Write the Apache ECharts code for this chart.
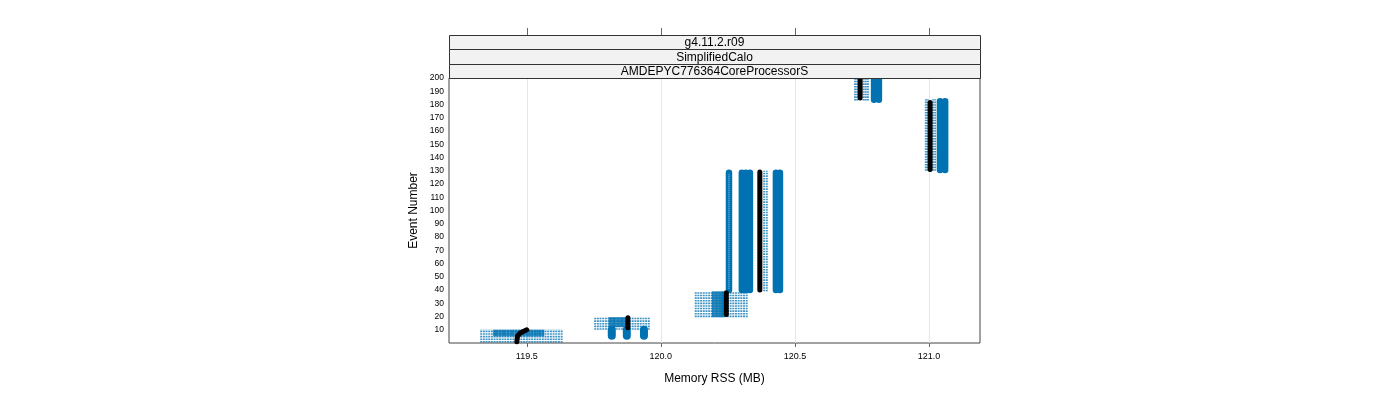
<!DOCTYPE html>
<html>
<head>
<meta charset="utf-8">
<script src="https://cdn.jsdelivr.net/npm/echarts@6/dist/echarts.min.js"></script>
<style>html,body{margin:0;padding:0;background:#fff}#c{width:1400px;height:400px}</style>
</head>
<body>
<div id="c"></div>
<script>
// ---- data ----
const stripLabels = ['g4.11.2.r09', 'SimplifiedCalo', 'AMDEPYC776364CoreProcessorS'];
const xTicks = [119.5, 120.0, 120.5, 121.0];
const xRange = [119.21, 121.19];
const yRange = [0, 200];

// light (sparse) runs: memory values and the event span they cover
const light1X = [119.33,119.34,119.35,119.36,119.37,119.38,119.39,119.40,119.41,119.42,119.43,119.44,119.45,119.46,119.47,119.48,119.49,119.50,119.51,119.52,119.53,119.54,119.55,119.56,119.57,119.58,119.59,119.60,119.61,119.62,119.63];
const light1Ev = [0.3, 10.3];
const light2X = [119.755,119.765,119.775,119.785,119.795,119.805,119.815,119.825,119.835,119.845,119.855,119.865,119.875,119.885,119.895,119.905,119.915,119.925,119.935,119.945,119.955];
const light2Ev = [10, 19.8];
const light3X = [120.13,120.14,120.15,120.16,120.17,120.18,120.19,120.20,120.21,120.22,120.23,120.24,120.25,120.26,120.27,120.28,120.29,120.30,120.31,120.32];
const light3Ev = [19.5, 39];
const light4X = [120.385, 120.395];
const light4Ev = [39, 130];
const light5X = [120.988, 120.995, 121.015, 121.023];
const light5Ev = [130, 184];
const light6X = [120.724, 120.732, 120.756, 120.764, 120.772];
const light6Ev = [183, 200];

// dense runs (many overlapping runs)
const dense1X = [119.38,119.39,119.40,119.41,119.42,119.43,119.44,119.45,119.46,119.47,119.48,119.49,119.50,119.51,119.52,119.53,119.54,119.55,119.56];
const dense1Ev = [5, 10];
const dense2X = [119.81,119.82,119.83,119.84,119.85,119.86,119.87];
const dense2Ev = [12, 19.5];
const dense3X = [120.195,120.205,120.215,120.225,120.232];
const dense3Ev = [19.5, 39];

// solid blue columns: [memory, first event, last event]
const blueRuns = [
  [120.254, 40, 128.5],
  [120.302, 40, 128.5], [120.317, 40, 128.5], [120.332, 40, 128.5],
  [120.429, 40, 128.5], [120.444, 40, 128.5],
  [121.041, 130.6, 182.4], [121.060, 130.6, 182.4],
  [120.795, 183.6, 200], [120.813, 183.6, 200]
];
// blue blobs near the start (wider marks)
const blueBlobs = [[119.817, 5.5, 10], [119.873, 5.5, 10], [119.937, 5.5, 10]];

// black reference run: [memory, event] points, one path per step
const blackPaths = [
  [[119.463, 1], [119.465, 5], [119.474, 7.3], [119.489, 8.9], [119.5, 10]],
  [[119.877, 11.5], [119.877, 19]],
  [[120.244, 21.5], [120.244, 38]],
  [[120.369, 40], [120.369, 129]],
  [[121.004, 131], [121.004, 181.5]],
  [[120.743, 185], [120.743, 200]]
];

// ---- layout ----
const G = { left: 449, right: 980, top: 78, bottom: 343 };
const stripTop = 35, stripH = (G.top - stripTop) / 3;
const FONT = '"Liberation Sans", Arial, sans-serif';
const BLUE = '#0072B2';

function toRows(xs, ev) { return xs.map(x => [x, ev[0], ev[1]]); }

function segSeries(rows, style, z) {
  return {
    type: 'custom', silent: true, animation: false, clip: true, z: z,
    encode: { x: 0, y: [1, 2] },
    data: rows,
    renderItem: function (params, api) {
      const p0 = api.coord([api.value(0), api.value(1)]);
      const p1 = api.coord([api.value(0), api.value(2)]);
      return { type: 'line', shape: { x1: p0[0], y1: p0[1], x2: p1[0], y2: p1[1] }, style: Object.assign({ fill: null }, style) };
    }
  };
}

const lightRows = [].concat(
  toRows(light1X, light1Ev), toRows(light2X, light2Ev), toRows(light3X, light3Ev),
  toRows(light4X, light4Ev), toRows(light5X, light5Ev), toRows(light6X, light6Ev));
const denseRows = [].concat(toRows(dense1X, dense1Ev), toRows(dense2X, dense2Ev), toRows(dense3X, dense3Ev));

const series = [];
// vertical reference grid lines at tick positions
series.push({
  type: 'custom', silent: true, animation: false, z: 1,
  encode: { x: 0 },
  data: xTicks.map(v => [v]),
  renderItem: function (params, api) {
    const a = api.coord([api.value(0), yRange[0]]);
    const b = api.coord([api.value(0), yRange[1]]);
    return { type: 'line', shape: { x1: Math.round(a[0]) + 0.5, y1: a[1], x2: Math.round(b[0]) + 0.5, y2: b[1] }, style: { stroke: '#e6e6e6', lineWidth: 1 } };
  }
});
series.push(segSeries(lightRows, { stroke: 'rgba(0,114,178,0.75)', lineWidth: 2, lineDash: [1.6, 1], lineCap: 'butt' }, 3));
series.push(segSeries(denseRows, { stroke: 'rgba(0,114,178,0.85)', lineWidth: 2.8, lineCap: 'butt' }, 4));
series.push(segSeries(blueRuns, { stroke: BLUE, lineWidth: 6.5, lineCap: 'round' }, 5));
series.push(segSeries(blueBlobs, { stroke: BLUE, lineWidth: 8, lineCap: 'round' }, 5));
// lighter dotted core of the thin column
series.push(segSeries([[120.254, 41, 127.5]], { stroke: 'rgba(255,255,255,0.35)', lineWidth: 2, lineDash: [1, 1], lineCap: 'butt' }, 6));
blackPaths.forEach(p => {
  series.push({
    type: 'line', data: p, showSymbol: false, symbol: 'none', silent: true, animation: false, z: 8,
    lineStyle: { color: '#000', width: 5, cap: 'round', join: 'round' }
  });
});

const graphics = [];
stripLabels.forEach((t, i) => {
  const y0 = Math.round(stripTop + i * stripH);
  const y1 = Math.round(stripTop + (i + 1) * stripH);
  graphics.push({
    type: 'rect', silent: true, z: 10,
    shape: { x: G.left + 0.5, y: y0 + 0.5, width: G.right - G.left, height: y1 - y0 },
    style: { fill: '#f2f2f2', stroke: '#333', lineWidth: 1 }
  });
  graphics.push({
    type: 'text', silent: true, z: 11,
    x: (G.left + G.right) / 2, y: (y0 + y1) / 2 + 1,
    style: { text: t, fill: '#000', font: '12px ' + FONT, align: 'center', verticalAlign: 'middle' }
  });
});

const chart = echarts.init(document.getElementById('c'), null, { renderer: 'canvas' });
chart.setOption({
  backgroundColor: '#fff',
  animation: false,
  textStyle: { fontFamily: FONT },
  grid: { left: G.left, top: G.top, width: G.right - G.left, height: G.bottom - G.top, show: true, borderColor: '#444', borderWidth: 1, backgroundColor: 'transparent' },
  xAxis: [{
    type: 'value', min: xRange[0], max: xRange[1], position: 'bottom',
    name: 'Memory RSS (MB)', nameLocation: 'middle', nameGap: 30,
    nameTextStyle: { fontSize: 12, color: '#000', fontFamily: FONT },
    axisLine: { show: false },
    axisTick: { show: true, customValues: xTicks, length: 4, lineStyle: { color: '#666' } },
    axisLabel: { customValues: xTicks, formatter: v => v.toFixed(1), fontSize: 9, color: '#000', margin: 9, fontFamily: FONT },
    splitLine: { show: false }
  }, {
    type: 'value', min: xRange[0], max: xRange[1], position: 'top', offset: G.top - stripTop,
    axisLine: { show: false },
    axisTick: { show: true, customValues: xTicks, length: 7, lineStyle: { color: '#666' } },
    axisLabel: { show: false },
    splitLine: { show: false }
  }],
  yAxis: {
    type: 'value', min: yRange[0], max: yRange[1], interval: 10,
    name: 'Event Number', nameLocation: 'middle', nameGap: 29, nameRotate: 90,
    nameTextStyle: { fontSize: 12, color: '#000', fontFamily: FONT },
    axisLine: { show: false }, axisTick: { show: false },
    axisLabel: { fontSize: 8.5, color: '#000', margin: 5, showMinLabel: false, fontFamily: FONT },
    splitLine: { show: false }
  },
  graphic: graphics,
  series: series
});
</script>
</body>
</html>
